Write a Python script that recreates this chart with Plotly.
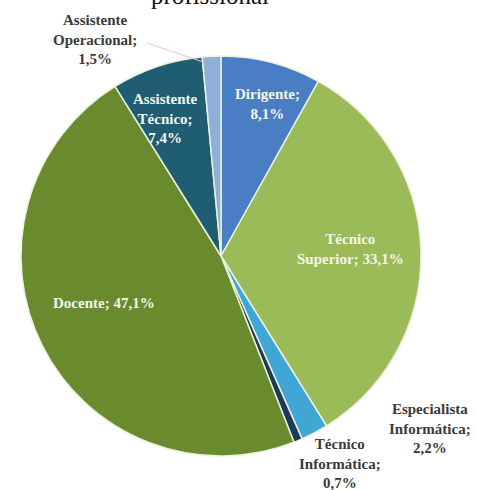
import plotly.graph_objects as go

# Distribuição por grupo profissional (percentagem)
categorias = [
    "Dirigente",
    "Técnico Superior",
    "Especialista Informática",
    "Técnico Informática",
    "Docente",
    "Assistente Técnico",
    "Assistente Operacional",
]
percentagens = [8.1, 33.1, 2.2, 0.7, 47.1, 7.4, 1.5]

# Texto dos rótulos (quebras de linha como no gráfico)
rotulos_nome = [
    "Dirigente;<br>",
    "Técnico<br>Superior; ",
    "Especialista<br>Informática;<br>",
    "Técnico<br>Informática;<br>",
    "Docente; ",
    "Assistente<br>Técnico;<br>",
    "Assistente<br>Operacional;<br>",
]

cores = ["#4A7EC4", "#9BBB59", "#3FA6D6", "#1B3A5C", "#6A8A2E", "#1F5E72", "#8FAEDB"]

W, H = 477, 490

# posição (px) de cada rótulo e se fica dentro da fatia
pos_rotulos = [(267, 104), (350, 249), (430, 428), (340, 463), (104, 303), (165, 118), (95, 40)]
dentro = [True, True, False, False, True, True, False]


def fmt_pct(v):
    return f"{v:.1f}".replace(".", ",") + "%"


# círculo com centro (221, 256) e raio 200 px
cx, cy, r = 221, 256, 200
fig = go.Figure(
    go.Pie(
        labels=categorias,
        values=percentagens,
        sort=False,
        direction="clockwise",
        rotation=0,
        marker=dict(colors=cores, line=dict(color="#EAF2DC", width=1.5)),
        textinfo="none",
        hoverinfo="label+percent",
        showlegend=False,
        domain=dict(
            x=[(cx - r) / W, (cx + r) / W],
            y=[1 - (cy + r) / H, 1 - (cy - r) / H],
        ),
    )
)

anotacoes = []
for nome, v, (px, py), d in zip(rotulos_nome, percentagens, pos_rotulos, dentro):
    anotacoes.append(
        dict(
            text=nome + fmt_pct(v),
            x=px / W,
            y=1 - py / H,
            xref="paper",
            yref="paper",
            xanchor="center",
            yanchor="middle",
            showarrow=False,
            align="center",
            font=dict(
                family="Liberation Serif",
                size=15,
                weight="bold",
                color="#F4F6EC" if d else "#3A3A3A",
            ),
        )
    )

# última linha do título, parcialmente acima da área visível
anotacoes.append(
    dict(
        text="profissional",
        x=210 / W,
        y=1,
        xref="paper",
        yref="paper",
        xanchor="center",
        yanchor="bottom",
        yshift=-11,
        showarrow=False,
        font=dict(family="Liberation Serif", size=25, color="#111111"),
    )
)

fig.update_layout(
    width=W,
    height=H,
    margin=dict(l=0, r=0, t=0, b=0),
    paper_bgcolor="white",
    plot_bgcolor="white",
    annotations=anotacoes,
    shapes=[
        dict(
            type="line",
            xref="paper",
            yref="paper",
            x0=147 / W,
            y0=1 - 43 / H,
            x1=203 / W,
            y1=1 - 62 / H,
            line=dict(color="#F2C4C4", width=1),
        )
    ],
)

fig.write_html("out.html")
